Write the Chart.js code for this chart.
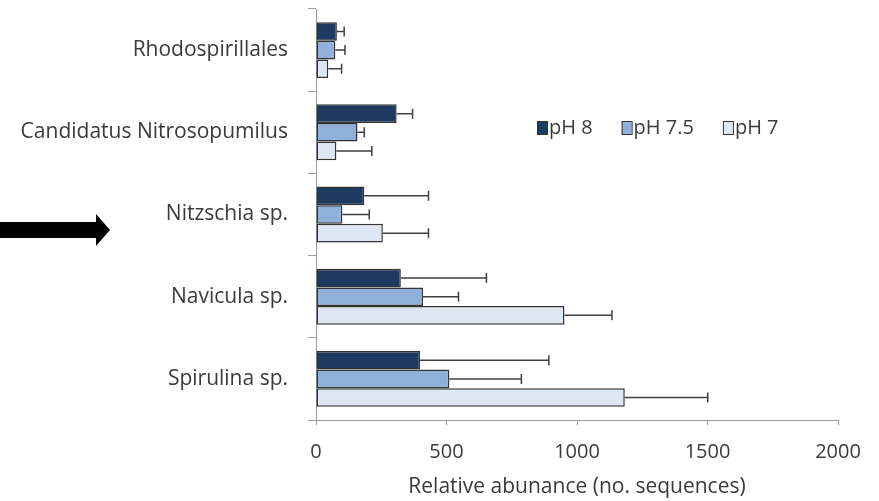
<!DOCTYPE html>
<html>
<head>
<meta charset="utf-8">
<script src="https://cdn.jsdelivr.net/npm/chart.js@4/dist/chart.umd.min.js"></script>
<style>
  html, body { margin: 0; padding: 0; background: #fff; }
  #wrap { width: 879px; height: 501px; position: relative; }
</style>
</head>
<body>
<div id="wrap"><canvas id="chart"></canvas></div>
<script>
const categories = ['Rhodospirillales', 'Candidatus Nitrosopumilus', 'Nitzschia sp.', 'Navicula sp.', 'Spirulina sp.'];
const seriesNames = ['pH 8', 'pH 7.5', 'pH 7'];

const ph8 = [80, 309, 185, 325, 399];
const ph8Err = [28, 61, 246, 328, 493];
const ph75 = [74, 159, 101, 410, 511];
const ph75Err = [37, 26, 103, 136, 276];
const ph7 = [47, 78, 256, 952, 1183];
const ph7Err = [51, 136, 175, 182, 318];

const xTicks = [0, 500, 1000, 1500, 2000];

const fillColors = ['#1f3a60', '#8eb0da', '#dde7f3'];
const font = "'Open Sans', 'Noto Sans', sans-serif";
const textColor = '#3a3a3a';

const errors = [ph8Err, ph75Err, ph7Err];

// error bars, drawn to the right of each bar
const errorBars = {
    id: 'errorBars',
    afterDatasetsDraw(chart) {
        const ctx = chart.ctx;
        const xScale = chart.scales.x;
        ctx.save();
        ctx.strokeStyle = '#404040';
        ctx.lineWidth = 1.5;
        chart.data.datasets.forEach((ds, di) => {
            const meta = chart.getDatasetMeta(di);
            meta.data.forEach((bar, i) => {
                const end = xScale.getPixelForValue(ds.data[i] + errors[di][i]);
                ctx.beginPath();
                ctx.moveTo(bar.x, bar.y);
                ctx.lineTo(end, bar.y);
                ctx.moveTo(end, bar.y - 5);
                ctx.lineTo(end, bar.y + 5);
                ctx.stroke();
            });
        });
        ctx.restore();
    }
};

// legend inside the plot area, plus the arrow on the left
const extras = {
    id: 'extras',
    afterDraw(chart) {
        const ctx = chart.ctx;
        ctx.save();
        ctx.font = '20px ' + font;
        ctx.textBaseline = 'middle';
        let x = 537;
        const y = 128;
        chart.data.datasets.forEach((ds) => {
            ctx.fillStyle = ds.backgroundColor;
            ctx.fillRect(x, y - 7, 10, 13);
            ctx.strokeStyle = '#333';
            ctx.lineWidth = 1;
            ctx.strokeRect(x + 0.5, y - 6.5, 10, 13);
            ctx.fillStyle = textColor;
            ctx.fillText(ds.label, x + 12, y);
            x += 12 + ctx.measureText(ds.label).width + 29;
        });

        ctx.fillStyle = '#000';
        ctx.beginPath();
        ctx.moveTo(0, 222);
        ctx.lineTo(96, 222);
        ctx.lineTo(96, 214);
        ctx.lineTo(110, 230);
        ctx.lineTo(96, 246);
        ctx.lineTo(96, 238);
        ctx.lineTo(0, 238);
        ctx.closePath();
        ctx.fill();
        ctx.restore();
    }
};

const datasets = [ph8, ph75, ph7].map((values, i) => ({
    label: seriesNames[i],
    data: values,
    backgroundColor: fillColors[i],
    borderColor: '#333',
    borderWidth: 1.5,
    borderSkipped: false,
    barPercentage: 1.0,
    categoryPercentage: 0.68
}));

new Chart(document.querySelector('#chart'), {
    type: 'bar',
    data: { labels: categories, datasets },
    options: {
        indexAxis: 'y',
        responsive: true,
        maintainAspectRatio: false,
        animation: false,
        layout: { padding: { top: 9, right: 41, left: 0, bottom: 0 } },
        plugins: {
            legend: { display: false },
            tooltip: { enabled: false }
        },
        scales: {
            x: {
                min: 0,
                max: 2000,
                afterBuildTicks: (scale) => { scale.ticks = xTicks.map(v => ({ value: v })); },
                afterFit: (scale) => { scale.height = 81; },
                grid: { drawOnChartArea: false, tickLength: 5, color: '#999' },
                border: { color: '#999', width: 1 },
                ticks: {
                    color: textColor,
                    font: { family: font, size: 20 },
                    padding: 15,
                    callback: (v) => String(v)
                },
                title: {
                    display: true,
                    text: 'Relative abunance (no. sequences)',
                    color: textColor,
                    font: { family: font, size: 21 },
                    padding: { top: 4, bottom: 1 }
                }
            },
            y: {
                afterFit: (scale) => {
                    scale.width = 316;
                    scale.paddingTop = 0;
                    scale.paddingBottom = 0;
                },
                grid: { drawOnChartArea: false, tickLength: 8, color: '#999', offset: true },
                border: { color: '#999', width: 1 },
                ticks: { color: textColor, font: { family: font, size: 21 }, padding: 20 }
            }
        }
    },
    plugins: [errorBars, extras]
});
</script>
</body>
</html>
